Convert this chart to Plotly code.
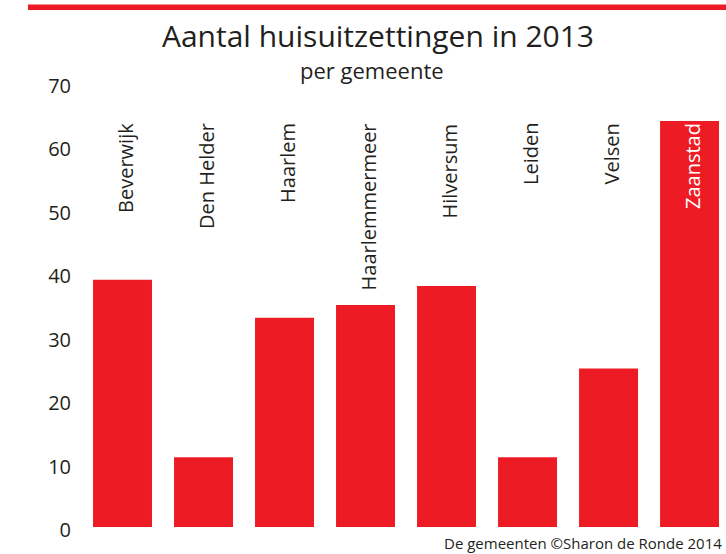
import plotly.graph_objects as go

gemeenten = ["Beverwijk", "Den Helder", "Haarlem", "Haarlemmermeer",
             "Hilversum", "Leiden", "Velsen", "Zaanstad"]
uitzettingen = [39, 11, 33, 35, 38, 11, 25, 64]
y_ticks = [0, 10, 20, 30, 40, 50, 60, 70]

RED = "#ED1C24"
INK = "#231F20"
FONT = "Open Sans"

W, H = 726, 554
ML, MR, MT, MB = 82, 0, 82.5, 27


def px_to_paper_x(px):
    return (px - ML) / (W - ML - MR)


def px_to_paper_y(py):
    return (H - MB - py) / (H - MT - MB)


fig = go.Figure(go.Bar(
    x=gemeenten, y=uitzettingen,
    marker=dict(color=RED, line=dict(width=0)),
    width=0.728, hoverinfo="x+y",
))

label_y = px_to_paper_y(121)
for g, v in zip(gemeenten, uitzettingen):
    inside = v > 63
    fig.add_annotation(
        x=g, y=label_y, xref="x", yref="paper",
        text=g, textangle=-90, showarrow=False,
        xanchor="center", yanchor="top", xshift=3,
        font=dict(family=FONT, size=20, color="white" if inside else INK),
    )

fig.add_annotation(
    x=px_to_paper_x(372), y=px_to_paper_y(69), xref="paper", yref="paper",
    text="per gemeente", showarrow=False, xanchor="center", yanchor="middle",
    font=dict(family=FONT, size=22, color=INK),
)

fig.add_annotation(
    x=px_to_paper_x(724), y=px_to_paper_y(543), xref="paper", yref="paper",
    text="De gemeenten ©Sharon de Ronde 2014", showarrow=False,
    xanchor="right", yanchor="middle",
    font=dict(family=FONT, size=15, color=INK),
)

fig.add_shape(
    type="rect", xref="paper", yref="paper",
    x0=px_to_paper_x(28), x1=px_to_paper_x(730),
    y0=px_to_paper_y(9.5), y1=px_to_paper_y(4),
    fillcolor=RED, line=dict(width=0), layer="above",
)

fig.update_layout(
    width=W, height=H,
    margin=dict(l=ML, r=MR, t=MT, b=MB, pad=0),
    paper_bgcolor="white", plot_bgcolor="white",
    showlegend=False,
    title=dict(
        text="Aantal huisuitzettingen in 2013",
        x=378 / W, xanchor="center",
        y=1 - 36 / H, yanchor="middle", yref="container",
        font=dict(family=FONT, size=30, color=INK),
    ),
    xaxis=dict(
        range=[-0.5, 7.45], showticklabels=False, showgrid=False,
        zeroline=False, showline=False, ticks="",
    ),
    yaxis=dict(
        range=[0, 70], tickvals=y_ticks, showgrid=False, zeroline=False,
        showline=False, ticks="", ticklabelstandoff=10, ticklabelshift=3,
        tickfont=dict(family=FONT, size=20, color=INK),
    ),
    bargap=0.27,
)

fig.write_html("out.html")
